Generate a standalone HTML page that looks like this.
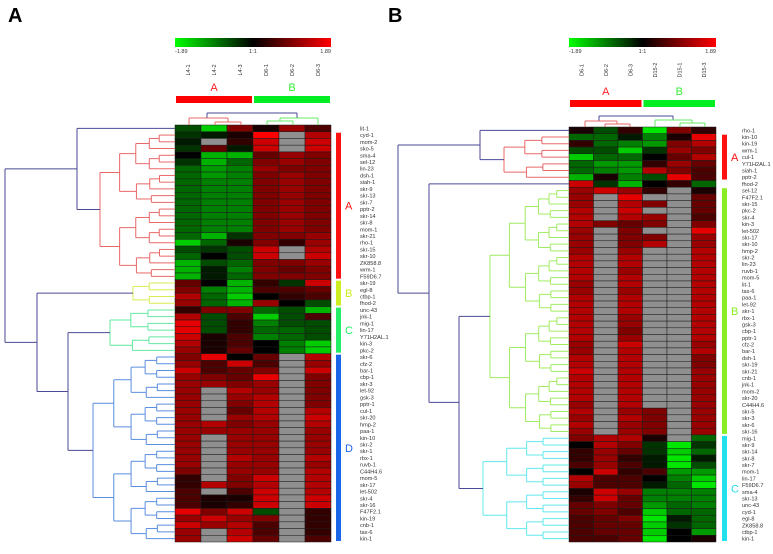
<!DOCTYPE html>
<html><head><meta charset="utf-8"><style>
html,body{margin:0;padding:0;background:#fff;}
svg{display:block;font-family:"Liberation Sans",sans-serif;}
</style></head><body>
<svg id="fig" width="773" height="554" viewBox="0 0 773 554" xmlns="http://www.w3.org/2000/svg">
<defs>
<linearGradient id="cg" x1="0" x2="1" y1="0" y2="0">
<stop offset="0" stop-color="#00ff00"/><stop offset="0.5" stop-color="#000"/><stop offset="1" stop-color="#ff0000"/>
</linearGradient>
</defs>
<text x="8" y="22" font-size="20" font-weight="bold">A</text>
<text x="388" y="22" font-size="20" font-weight="bold">B</text>
<g id="gA"></g>
<g id="gB"></g>
</svg>
<script>
const colsA=["L4-1","L4-2","L4-3","D6-1","D6-2","D6-3"];
const colsB=["D6-1","D6-2","D6-3","D15-2","D15-1","D15-3"];
const rowsA=["lit-1","cyd-1","mom-2","sko-5","sma-4","sel-12","lin-23","dsh-1","siah-1","skr-9","skr-13","skr-7","pptr-2","skr-14","skr-8","mom-1","skr-21","rho-1","skr-15","skr-10","ZK858.8","wrm-1","F59D6.7","skr-19","egl-8","ctbp-1","fhod-2","unc-43","jnk-1","mig-1","lin-17","Y71H2AL.1","kin-3","pkc-2","skr-6","cfz-2","bar-1","cbp-1","skr-3","let-92","gsk-3","pptr-1","cul-1","skr-20","hmp-2","paa-1","kin-10","skr-2","skr-1","rbx-1","ruvb-1","C44H4.6","mom-5","skr-17","let-502","skr-4","skr-16","F47F2.1","kin-19","cnb-1","tax-6","kin-1"];
const rowsB=["rho-1","kin-10","kin-19","wrm-1","cul-1","Y71H2AL.1","siah-1","pptr-2","fhod-2","sel-12","F47F2.1","skr-15","pkc-2","skr-4","kin-3","let-502","skr-17","skr-10","hmp-2","skr-2","lin-23","ruvb-1","mom-5","lit-1","tax-6","paa-1","let-92","skr-1","rbx-1","gsk-3","cbp-1","pptr-1","cfz-2","bar-1","dsh-1","skr-19","skr-21","cnb-1","jnk-1","mom-2","skr-20","C44H4.6","skr-5","skr-3","skr-6","skr-16","mig-1","skr-9","skr-14","skr-8","skr-7","mom-1","lin-17","F59D6.7","sma-4","skr-13","unc-43","cyd-1","egl-8","ZK858.8","ctbp-1","kin-1"];
const G=null;
const valsA=[
[-3,-8,5,1,6,3],[-2,-1,1,10,G,7],[-1,G,2,8,G,8],[-2,4,-1,8,G,8],[0,-7,-7,4,6,5],[-2,-7,-4,5,6,5],[-4,-6,-5,6,5,5],[-4,-6,-5,5,6,5],[-4,-5,-5,5,6,5],[-4,-5,-5,5,6,5],[-4,-5,-5,5,6,5],[-4,-5,-5,5,6,5],[-4,-5,-5,5,6,5],[-4,-5,-5,5,6,5],[-4,-5,-5,5,6,5],[-4,-5,-5,5,6,5],[-4,-7,-2,5,5,6],[-8,-4,1,5,2,6],[-3,-2,-3,8,G,7],[-4,0,-3,8,G,8],[-7,-3,-4,5,5,6],[-7,-1,-5,5,4,5],[-7,-1,-4,5,5,5],
[4,0,-7,2,-2,8],[5,-5,-7,3,3,4],[7,-4,-8,0,2,3],[6,-4,-7,6,0,-3],
[2,5,5,-4,-3,-7],[7,-3,3,-8,-3,3],[9,-3,2,-5,-3,-3],[9,-3,2,-4,-4,-3],[8,1,3,-5,-4,-3],[7,1,3,0,-5,-8],[6,1,4,0,-5,-8],
[5,9,0,4,G,7],[6,3,8,3,G,6],[8,3,4,5,G,8],[6,5,4,9,G,5],[6,6,5,6,G,5],[6,G,7,6,G,5],[6,G,6,7,G,5],[6,G,5,7,G,5],[6,G,4,7,G,7],[6,G,6,7,G,8],[6,7,5,6,G,7],[6,6,6,6,G,6],[6,G,6,6,G,6],[6,G,6,6,G,6],[6,G,6,6,G,6],[6,G,7,6,G,7],[6,G,6,6,G,6],[5,G,6,6,G,7],[2,G,5,8,G,7],[2,7,5,7,G,7],[3,G,3,8,G,7],[3,1,1,8,G,8],[3,1,2,8,G,8],[9,5,8,-3,G,2],[6,8,6,5,G,2],[8,6,7,3,G,2],[6,G,7,3,G,2],[6,G,8,4,G,3]];
const valsB=[
[1,-3,2,-9,5,2],[-4,-4,-1,-5,1,9],[2,-4,-5,-6,5,7],[-3,-3,-8,-2,6,5],[-8,-4,-4,0,4,7],[-4,-6,-6,2,6,4],[-4,-5,-6,7,5,3],[-7,1,-5,-3,9,3],[8,-2,-7,0,2,-4],
[6,8,6,2,G,1],[6,G,9,G,G,4],[6,G,7,5,G,4],[7,G,8,G,G,4],[7,G,7,6,G,3],[7,5,4,5,G,5],[6,G,5,G,G,9],[6,G,5,5,G,6],[6,G,5,7,G,6],[6,G,6,G,G,7],
[7,G,7,G,G,7],[7,G,7,G,G,7],[7,G,6,G,G,7],[7,G,7,G,G,7],[6,G,7,G,G,7],[6,G,6,G,G,7],[7,G,7,G,G,7],[7,G,7,G,G,7],[7,G,7,G,G,7],[7,G,6,G,G,7],[7,G,6,G,G,7],[7,G,5,G,G,7],[7,G,6,G,G,7],[6,G,8,G,G,6],[6,G,7,G,G,7],[7,G,7,G,G,5],[7,G,7,G,G,5],[8,G,7,G,G,6],[7,G,7,G,G,6],[7,G,7,G,G,6],[7,G,7,G,G,6],[7,G,7,G,G,6],[6,G,7,G,G,6],
[7,G,6,5,G,6],[6,G,7,5,G,6],[7,G,6,5,G,6],[6,G,6,5,G,6],
[5,7,7,1,G,-4],[0,7,5,-2,-9,-2],[2,6,4,-2,-8,-4],[2,6,2,-1,-9,-1],[3,6,3,-1,-9,-3],[0,8,2,3,-6,-6],[7,3,3,0,-5,-8],[6,3,3,-1,-4,-9],[1,8,6,-5,-5,-5],[2,8,4,-5,-5,-5],[4,5,4,-6,-4,-5],[4,5,3,-8,-4,-4],[3,4,5,-9,-1,-4],[3,4,4,-8,-2,-4],[3,4,4,-8,0,-6],[3,3,4,-9,0,1]];

const NS="http://www.w3.org/2000/svg";
function mk(p,tag,at){const e=document.createElementNS(NS,tag);for(const k in at)e.setAttribute(k,at[k]);p.appendChild(e);return e;}
function colorOf(v){if(v===null)return "#8f8f8f";const t=Math.max(-1,Math.min(1,v/10));const c=Math.round(255*Math.abs(t));return t>=0?`rgb(${c},0,0)`:`rgb(0,${c},0)`;}
function ln(p,x1,y1,x2,y2,c){const l=mk(p,"line",{x1,y1,x2,y2,stroke:c,"stroke-width":1});

}

function panel(g,cfg){
  const {x0,x1,y0,y1,rows,cols,vals}=cfg;
  const cw=(x1-x0)/cols.length, rh=(y1-y0)/rows.length;
  const yScale=i=>y0+i*rh, xScale=j=>x0+j*cw;
  const rc=i=>yScale(i)+rh/2;
  const cb=mk(g,"rect",{x:x0,y:38,width:x1-x0,height:9,fill:"url(#cg)"});
  
  [["-1.89",x0,"start"],["1:1",(x0+x1)/2,"middle"],["1.89",x1,"end"]].forEach(([s,x,a])=>{
    const t=mk(g,"text",{x,y:53,"font-size":5.5,"text-anchor":a,fill:"#333"});t.textContent=s;
    });
  cols.forEach((c,j)=>{const cx=xScale(j)+cw/2;
    const t=mk(g,"text",{x:0,y:0,"font-size":5.5,"text-anchor":"middle",fill:"#333",transform:`translate(${cx+2},70) rotate(-90)`});t.textContent=c;
    });
  const half=(x1-x0)/2;
  const ra=mk(g,"rect",{x:x0+1,y:cfg.gy,width:half-2,height:7,fill:"#ff0000"});
  
  const rb=mk(g,"rect",{x:x0+half+1,y:cfg.gy,width:half-2,height:7,fill:"#00ee22"});
  
  const ta=mk(g,"text",{x:x0+half/2,y:cfg.gy-5,"font-size":11,"text-anchor":"middle",fill:"#ff2020"});ta.textContent="A";
  
  const tb=mk(g,"text",{x:x0+half*1.5,y:cfg.gy-5,"font-size":11,"text-anchor":"middle",fill:"#33ee33"});tb.textContent="B";
  
  vals.forEach((row,i)=>row.forEach((v,j)=>{
    const r=mk(g,"rect",{x:xScale(j),y:yScale(i),width:cw,height:rh,fill:colorOf(v),stroke:"#1c1c1c","stroke-width":0.5});
    
    
  }));
  rows.forEach((n,i)=>{const t=mk(g,"text",{x:cfg.lx,y:rc(i)+2,"font-size":5.6,fill:"#333"});t.textContent=n;
    });
  cfg.side.forEach(s=>{const r=mk(g,"rect",{x:x1+cfg.sbo,y:yScale(s.a)+1,width:5,height:(s.b-s.a+1)*rh-2,fill:s.c});
    
    const t=mk(g,"text",{x:x1+cfg.sbo+9,y:rc((s.a+s.b)/2)+4,"font-size":11,fill:s.c});t.textContent=s.l;
    });
  // dendrogram: node at x joins two halves; returns y
  function node(lo,hi,x,c){
    if(lo===hi){const y=rc(lo);ln(g,x,y,x0,y,c);return y;}
    const mid=(lo+hi)>>1;
    const child=(a,b)=>{
      if(a===b){const y=rc(a);ln(g,x,y,x0,y,c);return y;}
      const nx=x+(x0-x)*(0.22+0.5/(b-a+2));
      const y=node(a,b,nx,c); ln(g,x,y,nx,y,c); return y;
    };
    const ya=child(lo,mid), yb=child(mid+1,hi);
    ln(g,x,ya,x,yb,c); return (ya+yb)/2;
  }
  g.node=node;g.rc=rc;g.ln=(a,b,c,d,e)=>ln(g,a,b,c,d,e);
}

const trunk="#4a4a94";
const gA=document.getElementById("gA");
panel(gA,{x0:175,x1:331,y0:125,y1:542,rows:rowsA,cols:colsA,vals:valsA,gy:96,lx:360,sbo:5,
  side:[{a:1,b:22,c:"#ff1010",l:"A"},{a:23,b:26,c:"#ccee22",l:"B"},{a:27,b:33,c:"#22ee66",l:"C"},{a:34,b:61,c:"#1a66e8",l:"D"}]});
(function(){const g=gA;
 const yR=g.node(1,22,100,"#e86868"); const y0=g.rc(0);
 g.ln(77,y0,175,y0,trunk); g.ln(77,yR,100,yR,trunk); g.ln(77,y0,77,yR,trunk);
 const yTop=(y0+yR)/2;
 const yY=g.node(23,26,133,"#d8ec50"); const yC=g.node(27,33,110,"#60e8a0"); const yD=g.node(34,61,93,"#5a8ee0");
 g.ln(68,yC,110,yC,trunk);g.ln(68,yD,93,yD,trunk);g.ln(68,yC,68,yD,trunk);
 const y68=(yC+yD)/2;
 g.ln(37,yY,133,yY,trunk);g.ln(37,y68,68,y68,trunk);g.ln(37,yY,37,y68,trunk);
 const y37=(yY+y68)/2;
 g.ln(5,yTop,77,yTop,trunk);g.ln(5,y37,37,y37,trunk);g.ln(5,yTop,5,y37,trunk);
 const c="#e86868",cg="#66e866";
 g.ln(207,113,297,113,trunk);g.ln(207,113,207,118,trunk);g.ln(297,113,297,118,trunk);
 g.ln(189,118,228,118,c);g.ln(189,118,189,125,c);g.ln(228,118,228,122,c);g.ln(215,122,241,122,c);g.ln(215,122,215,125,c);g.ln(241,122,241,125,c);
 g.ln(280,118,318,118,cg);g.ln(318,118,318,125,cg);g.ln(280,118,280,121,cg);g.ln(267,121,293,121,cg);g.ln(267,121,267,125,cg);g.ln(293,121,293,125,cg);
})();

const gB=document.getElementById("gB");
panel(gB,{x0:569,x1:716,y0:127,y1:542,rows:rowsB,cols:colsB,vals:valsB,gy:100,lx:742,sbo:6,
  side:[{a:1,b:7,c:"#ff1010",l:"A"},{a:9,b:45,c:"#88ee22",l:"B"},{a:46,b:61,c:"#22e0ee",l:"C"}]});
(function(){const g=gB;
 const yR=g.node(1,7,504,"#e86868"); const y0=g.rc(0);
 g.ln(480,y0,569,y0,trunk);g.ln(480,yR,504,yR,trunk);g.ln(480,y0,480,yR,trunk);
 const yTop=(y0+yR)/2;
 const yG=g.node(9,45,490,"#a0ec60"); const yC=g.node(46,61,483,"#60e8ee");
 g.ln(459,yG,490,yG,trunk);g.ln(459,yC,483,yC,trunk);g.ln(459,yG,459,yC,trunk);
 const y459=(yG+yC)/2; const y8=g.rc(8);
 g.ln(429,y8,569,y8,trunk);g.ln(429,y459,459,y459,trunk);g.ln(429,y8,429,y459,trunk);
 const y429=(y8+y459)/2;
 g.ln(398,yTop,480,yTop,trunk);g.ln(398,y429,429,y429,trunk);g.ln(398,yTop,398,y429,trunk);
 const c="#e86868",cg="#66e866";
 g.ln(599,116,673,116,trunk);g.ln(599,116,599,121,trunk);g.ln(673,116,673,120,trunk);
 g.ln(585,121,617,121,c);g.ln(585,121,585,127,c);g.ln(617,121,617,124,c);g.ln(605,124,630,124,c);g.ln(605,124,605,127,c);g.ln(630,124,630,127,c);
 g.ln(655,120,692,120,cg);g.ln(692,120,692,123,cg);g.ln(655,120,655,127,cg);g.ln(680,123,705,123,cg);g.ln(680,123,680,127,cg);g.ln(705,123,705,127,cg);
})();
</script>
</body></html>
